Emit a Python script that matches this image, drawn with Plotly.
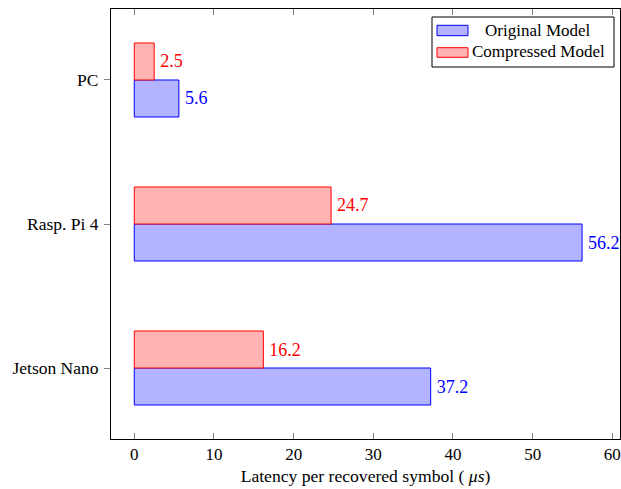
import plotly.graph_objects as go

devices = ["Jetson Nano", "Rasp. Pi 4", "PC"]
original = [37.2, 56.2, 5.6]
compressed = [16.2, 24.7, 2.5]
series_names = ["Original Model", "Compressed Model"]
x_ticks = [0, 10, 20, 30, 40, 50, 60]

FONT = "Liberation Serif"
BLUE_FILL = "rgb(179,179,255)"
RED_FILL = "rgb(255,179,179)"
PAD = "\u2006"

fig = go.Figure()
fig.add_trace(go.Bar(
    y=devices, x=original, orientation="h", name=series_names[0],
    marker=dict(color=BLUE_FILL, line=dict(color="blue", width=1)),
    text=[f"{PAD}{v}" for v in original], textposition="outside",
    textfont=dict(color="blue", size=18, family=FONT), cliponaxis=False,
))
fig.add_trace(go.Bar(
    y=devices, x=compressed, orientation="h", name=series_names[1],
    marker=dict(color=RED_FILL, line=dict(color="red", width=1)),
    text=[f"{PAD}{v}" for v in compressed], textposition="outside",
    textfont=dict(color="red", size=18, family=FONT), cliponaxis=False,
))

W, H = 621, 489
L, R, T, B = 111, 1, 9, 50
pw, ph = W - L - R, H - T - B

def px(x):
    return (x - L) / pw

def py(y):
    return (H - B - y) / ph

shapes = [
    dict(type="rect", xref="paper", yref="paper", x0=px(432), x1=px(614), y0=py(67), y1=py(17),
         line=dict(color="black", width=1), fillcolor="white", layer="above"),
    dict(type="rect", xref="paper", yref="paper", x0=px(437), x1=px(468), y0=py(35.7), y1=py(25.3),
         line=dict(color="blue", width=1), fillcolor=BLUE_FILL, layer="above"),
    dict(type="rect", xref="paper", yref="paper", x0=px(437), x1=px(468), y0=py(57.3), y1=py(47.7),
         line=dict(color="red", width=1), fillcolor=RED_FILL, layer="above"),
]
annotations = [
    dict(xref="paper", yref="paper", x=px(538), y=py(30.5), text=series_names[0], showarrow=False,
         xanchor="center", yanchor="middle", font=dict(family=FONT, size=17, color="black")),
    dict(xref="paper", yref="paper", x=px(538), y=py(52), text=series_names[1], showarrow=False,
         xanchor="center", yanchor="middle", font=dict(family=FONT, size=17, color="black")),
]

fig.update_layout(
    width=W, height=H,
    margin=dict(l=L, r=R, t=T, b=B, pad=0),
    paper_bgcolor="white", plot_bgcolor="white",
    barmode="group", bargap=0.486, bargroupgap=0,
    showlegend=False,
    font=dict(family=FONT, size=17.5, color="black"),
    shapes=shapes, annotations=annotations,
)
fig.update_xaxes(
    range=[-2.92, 60.96], tickvals=x_ticks, ticktext=[str(t) for t in x_ticks],
    ticks="inside", ticklen=6, tickcolor="gray", mirror="ticks",
    showline=True, linecolor="black", linewidth=1, showgrid=False, zeroline=False,
    title=dict(text="Latency per recovered symbol ( <i>μs</i>)", font=dict(size=17.6), standoff=6),
    tickfont=dict(size=17), ticklabeloverflow="allow",
)
fig.update_yaxes(
    range=[-0.493, 2.493], categoryorder="array", categoryarray=devices,
    ticks="outside", ticklen=6, tickcolor="gray", mirror=True,
    showline=True, linecolor="black", linewidth=1, showgrid=False, zeroline=False,
    tickfont=dict(size=17.5), ticklabelstandoff=2,
)

fig.write_html("out.html")
